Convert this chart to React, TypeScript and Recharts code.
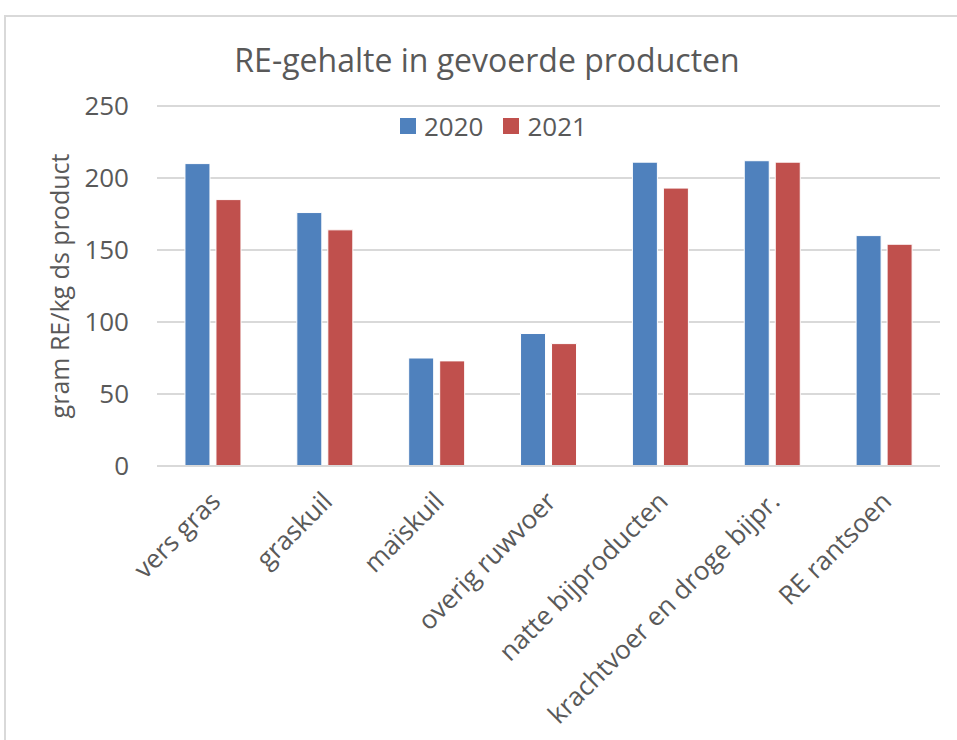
import { BarChart, Bar, XAxis, YAxis, CartesianGrid } from 'recharts';

const categories = [
    'vers gras',
    'graskuil',
    'maïskuil',
    'overig ruwvoer',
    'natte bijproducten',
    'krachtvoer en droge bijpr.',
    'RE rantsoen',
];
const values2020 = [210, 176, 75, 92, 211, 212, 160];
const values2021 = [185, 164, 73, 85, 193, 211, 154];
const yTicks = [0, 50, 100, 150, 200, 250];

const BLUE = '#4F81BD';
const RED = '#C0504D';
const TEXT = '#595959';
const FONT = "'Open Sans', 'Liberation Sans', sans-serif";

const data = categories.map((name, i) => ({
    name,
    y2020: values2020[i],
    y2021: values2021[i],
}));

const CategoryTick = ({ x, y, payload }: any) => {
    const ax = x + 2;
    const ay = y + 22;
    return (
        <text
            x={ax}
            y={ay}
            transform={`rotate(-45, ${ax}, ${ay})`}
            textAnchor="end"
            dominantBaseline="central"
            fontSize={26}
            fill={TEXT}
            fontFamily={FONT}
        >
            {payload.value}
        </text>
    );
};

const legendItems = [
    { label: '2020', color: BLUE },
    { label: '2021', color: RED },
];

export default function App() {
    return (
        <div style={{ position: 'absolute', left: 0, top: 0, width: 957, height: 740, background: '#fff', overflow: 'hidden' }}>
            {/* outer chart frame */}
            <div style={{ position: 'absolute', left: 4, top: 15, width: 970, height: 760, border: '2px solid #d9d9d9' }} />
            <div style={{ position: 'absolute', left: 0, top: 0 }}>
                <BarChart
                    width={957}
                    height={740}
                    data={data}
                    margin={{ top: 106, right: 17, bottom: 0, left: 0 }}
                    barCategoryGap="25%"
                    barGap={6}
                >
                    <CartesianGrid vertical={false} stroke="#d9d9d9" strokeWidth={2} />
                    <XAxis
                        dataKey="name"
                        interval={0}
                        axisLine={{ stroke: '#d9d9d9', strokeWidth: 2 }}
                        tickLine={false}
                        tick={<CategoryTick />}
                        height={274}
                    />
                    <YAxis
                        domain={[0, 250]}
                        ticks={yTicks}
                        width={157}
                        axisLine={false}
                        tickLine={false}
                        tickMargin={22}
                        tick={{ fontSize: 26, fill: TEXT, fontFamily: FONT }}
                        label={{
                            value: 'gram RE/kg ds product',
                            angle: -90,
                            position: 'insideLeft',
                            offset: 60,
                            style: { textAnchor: 'middle', fontSize: 25, fill: TEXT, fontFamily: FONT },
                        }}
                    />
                    <Bar dataKey="y2020" name="2020" fill={BLUE} stroke="#fff" strokeWidth={1} isAnimationActive={false} />
                    <Bar dataKey="y2021" name="2021" fill={RED} stroke="#fff" strokeWidth={1} isAnimationActive={false} />
                </BarChart>
            </div>
            <div
                style={{
                    position: 'absolute',
                    top: 38,
                    left: 0,
                    width: 974,
                    textAlign: 'center',
                    fontFamily: FONT,
                    fontSize: 32,
                    color: TEXT,
                }}
            >
                RE-gehalte in gevoerde producten
            </div>
            <div
                style={{
                    position: 'absolute',
                    top: 108,
                    left: 400,
                    display: 'flex',
                    gap: 20,
                    fontFamily: FONT,
                    fontSize: 26,
                    color: TEXT,
                }}
            >
                {legendItems.map((item) => (
                    <span key={item.label} style={{ display: 'flex', alignItems: 'center', gap: 8 }}>
                        <span style={{ width: 16, height: 16, background: item.color, display: 'inline-block' }} />
                        {item.label}
                    </span>
                ))}
            </div>
        </div>
    );
}
